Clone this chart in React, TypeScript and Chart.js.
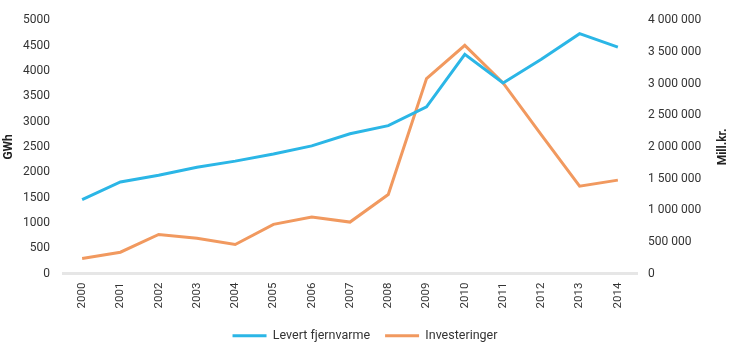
import React, { useEffect, useRef } from "react";
import { Chart, registerables } from "chart.js";

Chart.register(...registerables);

const years = ["2000","2001","2002","2003","2004","2005","2006","2007","2008","2009","2010","2011","2012","2013","2014"];
const levertFjernvarme = [1460, 1810, 1940, 2100, 2220, 2360, 2520, 2760, 2920, 3290, 4325, 3760, 4230, 4735, 4470];
const investeringer = [240000, 338000, 619000, 560000, 460000, 778000, 894000, 814000, 1249000, 3079000, 3603000, 3011000, 2190000, 1381000, 1476000];
const seriesNames = ["Levert fjernvarme", "Investeringer"];
const leftTitle = "GWh";
const rightTitle = "Mill.kr.";

const BLUE = "#2bb6e6";
const ORANGE = "#f1995f";
const FONT = "Roboto";

const fmtSpace = (v: number) => String(Math.round(v)).replace(/\B(?=(\d{3})+(?!\d))/g, " ");

export default function App() {
  const ref = useRef<HTMLCanvasElement | null>(null);
  useEffect(() => {
    if (!ref.current) return;
    const rightTitlePlugin = {
      id: "rightTitle",
      afterDraw(chart: any) {
        const s = chart.scales.y1;
        const ctx = chart.ctx;
        ctx.save();
        ctx.translate(s.right - 7, (s.top + s.bottom) / 2);
        ctx.rotate(-Math.PI / 2);
        ctx.textAlign = "center";
        ctx.textBaseline = "middle";
        ctx.fillStyle = "#222";
        ctx.font = `bold 12px ${FONT}`;
        ctx.fillText(rightTitle, 0, 0);
        ctx.restore();
      },
    };
    const chart = new Chart(ref.current, {
      type: "line",
      data: {
        labels: years,
        datasets: [
          {
            label: seriesNames[0],
            data: levertFjernvarme,
            borderColor: BLUE,
            backgroundColor: BLUE,
            borderWidth: 3,
            pointRadius: 0,
            tension: 0,
            yAxisID: "y",
          },
          {
            label: seriesNames[1],
            data: investeringer,
            borderColor: ORANGE,
            backgroundColor: ORANGE,
            borderWidth: 3,
            pointRadius: 0,
            tension: 0,
            yAxisID: "y1",
          },
        ],
      },
      options: {
        animation: false,
        responsive: true,
        maintainAspectRatio: false,
        layout: { padding: { top: 17, bottom: 6, left: 0, right: 0 } },
        plugins: {
          tooltip: { enabled: false },
          legend: {
            position: "bottom",
            labels: {
              boxWidth: 34,
              boxHeight: 3,
              padding: 15,
              color: "#333",
              font: { family: FONT, size: 12.5 },
              generateLabels: (c: any) =>
                Chart.defaults.plugins.legend.labels
                  .generateLabels(c)
                  .map((l: any) => ({ ...l, lineWidth: 0, fillStyle: l.strokeStyle })),
            },
          },
        },
        scales: {
          x: {
            offset: true,
            grid: { display: false, drawTicks: false },
            border: { display: true, color: "#e6e6e6", width: 3 },
            ticks: {
              color: "#333",
              font: { family: FONT, size: 11.5 },
              minRotation: 90,
              maxRotation: 90,
              padding: 9,
              autoSkip: false,
            },
            afterFit: (s: any) => {
              s.height = s.height - 3;
            },
          },
          y: {
            position: "left",
            min: 0,
            max: 5000,
            grid: { display: false, drawTicks: false },
            border: { display: false },
            ticks: {
              stepSize: 500,
              color: "#333",
              font: { family: FONT, size: 12 },
              padding: 13,
              callback: (v: any) => String(v),
            },
            title: {
              display: true,
              text: leftTitle,
              color: "#222",
              font: { family: FONT, size: 12, weight: "bold" },
              padding: { top: 2, bottom: 0 },
            },
            afterFit: (s: any) => {
              s.width = 63;
            },
          },
          y1: {
            position: "right",
            min: 0,
            max: 4000000,
            grid: { display: false, drawTicks: false },
            border: { display: false },
            ticks: {
              stepSize: 500000,
              color: "#333",
              font: { family: FONT, size: 12 },
              padding: 11,
              callback: (v: any) => fmtSpace(Number(v)),
            },
            afterFit: (s: any) => {
              s.width = 93;
            },
          },
        },
      },
      plugins: [rightTitlePlugin],
    } as any);
    return () => chart.destroy();
  }, []);
  return (
    <div style={{ position: "fixed", left: 0, top: 0, width: 730, height: 358 }}>
      <canvas ref={ref} />
    </div>
  );
}
